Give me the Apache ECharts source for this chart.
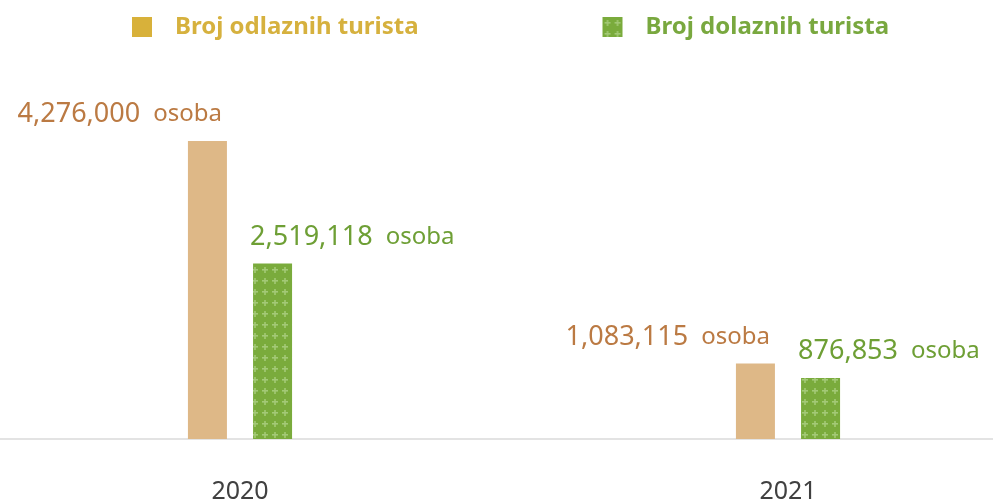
<!DOCTYPE html>
<html>
<head>
<meta charset="utf-8">
<script src="https://cdn.jsdelivr.net/npm/echarts@6/dist/echarts.min.js"></script>
<style>
  html, body { margin: 0; padding: 0; background: #fff; }
  #chart { width: 993px; height: 499px; }
</style>
</head>
<body>
<div id="chart"></div>
<script>
const years = ['2020', '2021'];
const outbound = [4276000, 1083115];
const inbound = [2519118, 876853];
const seriesNames = ['Broj odlaznih turista', 'Broj dolaznih turista'];

// green tile with light plus signs
function plusPattern() {
  const c = document.createElement('canvas');
  c.width = 10; c.height = 11;
  const ctx = c.getContext('2d');
  ctx.fillStyle = '#7aab3c';
  ctx.fillRect(0, 0, 10, 11);
  ctx.fillStyle = '#a3c977';
  ctx.fillRect(2, 5, 6, 1.6);
  ctx.fillRect(4.2, 3, 1.6, 6);
  return c;
}
const greenFill = { image: plusPattern(), repeat: 'repeat' };

const fmt = v => v.toLocaleString('en-US');

const chart = echarts.init(document.getElementById('chart'));
chart.setOption({
  animation: false,
  legend: {
    left: 127,
    top: 10,
    itemWidth: 20,
    itemHeight: 20,
    itemGap: 184,
    textStyle: { fontFamily: 'Noto Sans', fontWeight: 'bold', fontSize: 24, padding: [0, 0, 0, 18] },
    data: [
      { name: seriesNames[0], icon: 'rect', itemStyle: { color: '#d8b13a' }, textStyle: { color: '#d6b13e' } },
      { name: seriesNames[1], icon: 'rect', textStyle: { color: '#79a83f' } }
    ]
  },
  grid: { left: -34, width: 1096, top: 141, bottom: 60, outerBoundsMode: 'none', containLabel: false },
  xAxis: {
    type: 'category',
    data: years,
    axisLine: { lineStyle: { color: '#e3e3e3', width: 2 } },
    axisTick: { show: false },
    axisLabel: { margin: 40, fontSize: 25, color: '#404040', fontFamily: 'Noto Sans' }
  },
  yAxis: { type: 'value', show: false, min: 0, max: v => v.max, splitLine: { show: false } },
  series: [
    {
      name: seriesNames[0],
      type: 'bar',
      data: outbound,
      barWidth: 39,
      barGap: '67%',
      itemStyle: { color: '#deb887' },
      label: {
        show: true,
        position: ['100%', -13],
        align: 'right',
        verticalAlign: 'bottom',
        offset: [-5, 0],
        formatter: p => '{n|' + fmt(p.value) + '}{u|osoba}',
        rich: {
          n: { fontFamily: 'Noto Sans', fontSize: 27, color: '#bb7a43' },
          u: { fontFamily: 'Noto Sans', fontSize: 24, color: '#bb7a43', padding: [0, 0, 0, 13] }
        }
      }
    },
    {
      name: seriesNames[1],
      type: 'bar',
      data: inbound,
      barWidth: 39,
      itemStyle: { color: greenFill },
      label: {
        show: true,
        position: [0, -13],
        align: 'left',
        verticalAlign: 'bottom',
        offset: [-3, 0],
        formatter: p => '{n|' + fmt(p.value) + '}{u|osoba}',
        rich: {
          n: { fontFamily: 'Noto Sans', fontSize: 27, color: '#6e9f35' },
          u: { fontFamily: 'Noto Sans', fontSize: 24, color: '#6e9f35', padding: [0, 0, 0, 13] }
        }
      }
    }
  ]
});
</script>
</body>
</html>
